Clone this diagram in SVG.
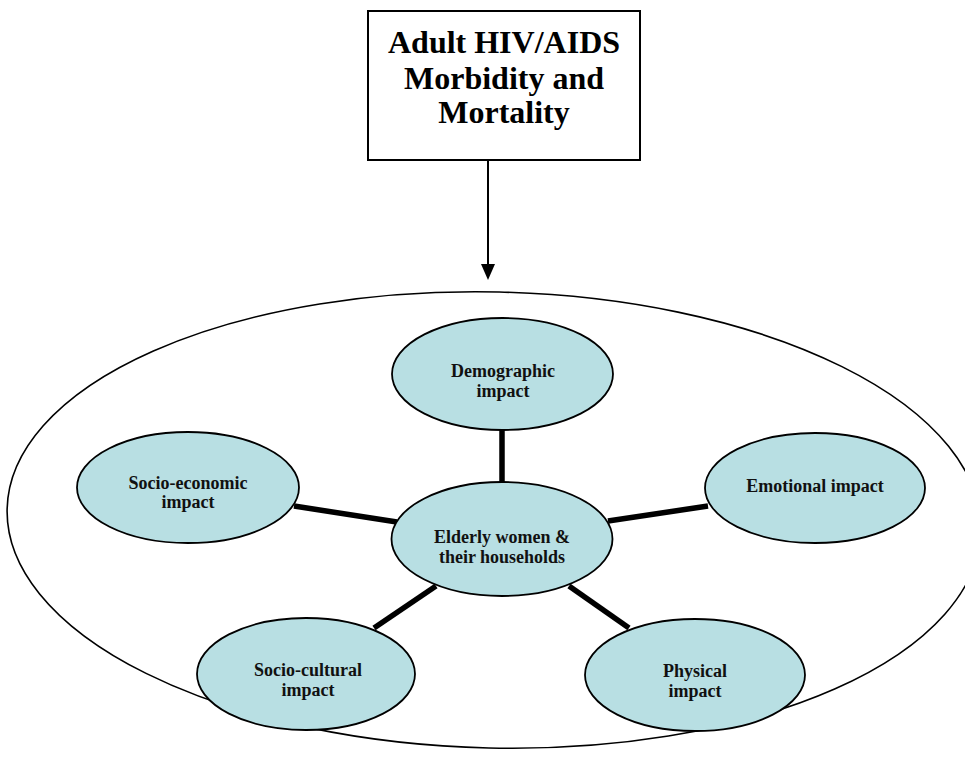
<svg xmlns="http://www.w3.org/2000/svg" width="965" height="759" viewBox="0 0 965 759">
<defs>
<style>
.bg{fill:#ffffff}
.box{fill:#ffffff;stroke:#000;stroke-width:2}
.outer{fill:none;stroke:#000;stroke-width:1.6}
.node{fill:#b8dfe3;stroke:#000;stroke-width:1.8}
.title{font-family:"Liberation Serif","Times New Roman",serif;font-weight:bold;font-size:32px;fill:#000;text-anchor:middle}
.lbl{font-family:"Liberation Serif","Times New Roman",serif;font-weight:bold;font-size:18px;fill:#111;text-anchor:middle}
.link{stroke:#000;stroke-width:5.5;stroke-linecap:butt}
.arrow{stroke:#000;stroke-width:2;fill:none}
</style>
</defs>
<rect class="bg" x="0" y="0" width="965" height="759"/>
<g id="outer-boundary">
<ellipse class="outer" cx="494" cy="520" rx="487" ry="228" transform="rotate(1.3 494 520)"/>
</g>
<g id="source">
<rect class="box" x="368" y="11" width="272" height="149"/>
<text class="title" x="504" y="53">Adult HIV/AIDS</text>
<text class="title" x="504" y="89">Morbidity and</text>
<text class="title" x="504" y="123">Mortality</text>
</g>
<g id="connectors">
<line class="arrow" x1="488" y1="160" x2="488" y2="265"/>
<path d="M481,264 L495,264 L488,280 Z" fill="#000"/>
<line class="link" x1="502" y1="429" x2="502" y2="483"/>
<line class="link" x1="294" y1="506" x2="397" y2="522"/>
<line class="link" x1="608" y1="521" x2="708" y2="506"/>
<line class="link" x1="436" y1="586" x2="374" y2="628"/>
<line class="link" x1="569" y1="586" x2="629" y2="628"/>
</g>
<g id="demographic">
<ellipse class="node" cx="502.5" cy="374" rx="110.5" ry="56"/>
<text class="lbl" x="503" y="377">Demographic</text>
<text class="lbl" x="503" y="396.5">impact</text>
</g>
<g id="socio-economic">
<ellipse class="node" cx="188" cy="487.5" rx="111" ry="55.5"/>
<text class="lbl" x="188" y="488.5">Socio-economic</text>
<text class="lbl" x="188" y="508">impact</text>
</g>
<g id="emotional">
<ellipse class="node" cx="815" cy="488" rx="110" ry="55"/>
<text class="lbl" x="815" y="492">Emotional impact</text>
</g>
<g id="elderly">
<ellipse class="node" cx="502" cy="539" rx="110.5" ry="57"/>
<text class="lbl" x="502" y="543">Elderly women &amp;</text>
<text class="lbl" x="502" y="563">their households</text>
</g>
<g id="socio-cultural">
<ellipse class="node" cx="306" cy="674" rx="109" ry="56"/>
<text class="lbl" x="308" y="676">Socio-cultural</text>
<text class="lbl" x="308" y="695.5">impact</text>
</g>
<g id="physical">
<ellipse class="node" cx="695" cy="675" rx="110" ry="56"/>
<text class="lbl" x="695" y="677">Physical</text>
<text class="lbl" x="695" y="697">impact</text>
</g>
</svg>
